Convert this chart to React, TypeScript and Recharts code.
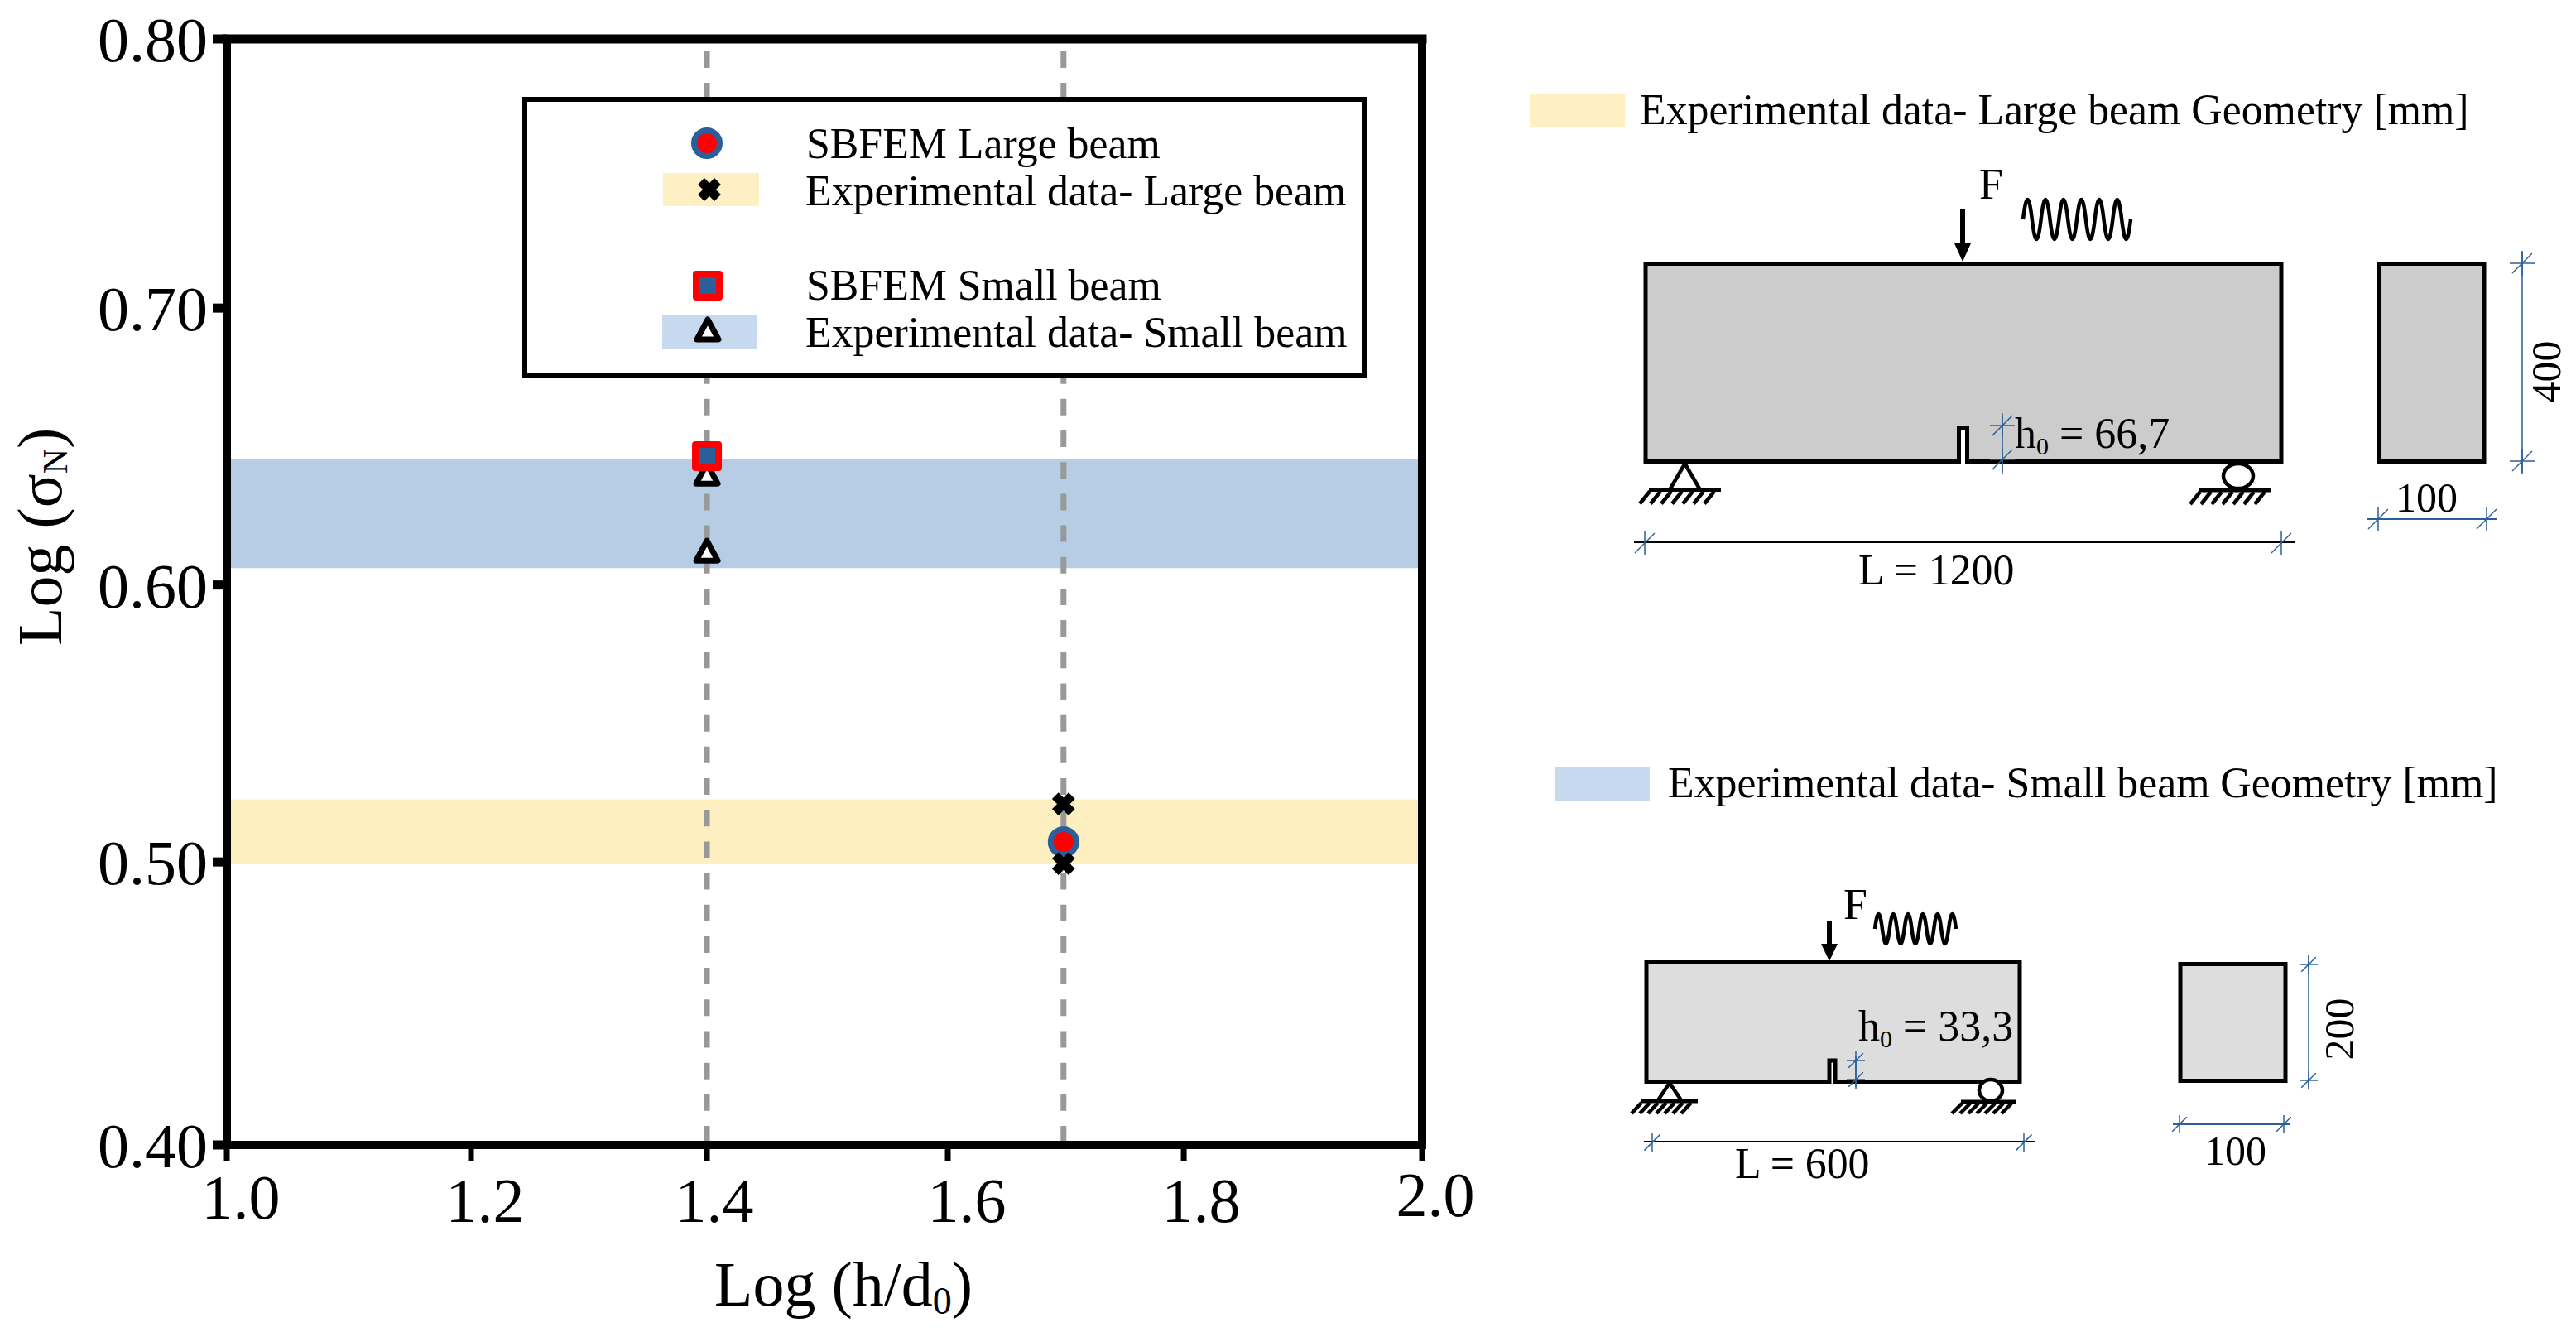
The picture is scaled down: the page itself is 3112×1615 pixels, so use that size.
import { Label, ReferenceArea, ReferenceLine, Scatter, ScatterChart, XAxis, YAxis } from 'recharts';

const SERIF = '"Liberation Serif", "Times New Roman", serif';
const BLUE = '#2B5F99';
const RED = '#FF0000';
const GRAY_DASH = '#999999';
const YELLOW_BAND = '#FEEFC0';
const BLUE_BAND = '#B7CDE5';
const YELLOW_SWATCH = '#FFF0C4';
const BLUE_SWATCH = '#C6D9EE';
const TEXT_SIZE = 51.8;

// axes (end ticks sit a little off the regular grid)
const xDomain = [1, 2];
const xTicks = [1, 1.2043, 1.4017, 1.6032, 1.8006, 2];
const yDomain = [0.3978, 0.7972];
const yTicks = [0.3978, 0.5, 0.6, 0.7, 0.7972];

const guideLines = [1.4017, 1.7];

const largeBand = [0.4994, 0.5224];
const smallBand = [0.6061, 0.6453];

const sbfemLargeX = [1.7];
const sbfemLargeY = [0.5072];
const expLargeX = [1.7, 1.7];
const expLargeY = [0.5209, 0.4994];
const sbfemSmallX = [1.4017];
const sbfemSmallY = [0.6465];
const expSmallX = [1.4017, 1.4017];
const expSmallY = [0.6402, 0.6124];

// the x labels were placed by hand in the original
const xLabelDx = [17, 17, 9, 23, 21, 16];
const xLabelY = [1472, 1476, 1476, 1476, 1476, 1469];

const toRows = (xs: number[], ys: number[]) => xs.map((x, i) => ({ x, y: ys[i] }));

function CircleMark({ cx, cy }: any) {
  return <circle cx={cx} cy={cy} r={15.5} fill={RED} stroke={BLUE} strokeWidth={7} />;
}

function SquareMark({ cx, cy }: any) {
  return <rect x={cx - 14} y={cy - 14} width={28} height={28} fill={BLUE} stroke={RED} strokeWidth={8} strokeLinejoin="round" />;
}

function CrossMark({ cx, cy }: any) {
  return (
    <path
      d={`M${cx - 10},${cy - 10}L${cx + 10},${cy + 10}M${cx + 10},${cy - 10}L${cx - 10},${cy + 10}`}
      stroke="#000"
      strokeWidth={11}
      fill="none"
    />
  );
}

function TriangleMark({ cx, cy }: any) {
  return (
    <path
      d={`M${cx},${cy - 12}L${cx + 13},${cy + 12}L${cx - 13},${cy + 12}Z`}
      fill="#fff"
      stroke="#000"
      strokeWidth={7}
      strokeLinejoin="round"
    />
  );
}

function XTick({ x, payload, index }: any) {
  return (
    <text x={x + xLabelDx[index]} y={xLabelY[index]} textAnchor="middle" fontFamily={SERIF} fontSize={76} fill="#000">
      {Number(payload.value).toFixed(1)}
    </text>
  );
}

function wavePath(x0: number, x1: number, mid: number, amp: number, periods: number) {
  const half = (x1 - x0) / (periods * 2);
  let d = `M${x0},${mid}`;
  for (let i = 0; i < periods * 2; i++) {
    const sign = i % 2 === 0 ? -1 : 1;
    const a = x0 + i * half;
    d += `C${a + half * 0.35},${mid + sign * amp * 1.33} ${a + half * 0.65},${mid + sign * amp * 1.33} ${a + half},${mid}`;
  }
  return d;
}

function Ground({ x0, x1, y, depth, step = 13 }: any) {
  return (
    <g stroke="#000" fill="none">
      <line x1={x0} x2={x1} y1={y} y2={y} strokeWidth={5} />
      {Array.from({ length: 7 }, (_, i) => (
        <line key={i} x1={x0 + step * i + 1} y1={y + 2} x2={x0 + step * i - 11} y2={y + depth} strokeWidth={4.5} />
      ))}
    </g>
  );
}

function Pin({ x, top, bottom, half }: any) {
  return <path d={`M${x - half},${bottom}L${x},${top}L${x + half},${bottom}`} fill="none" stroke="#000" strokeWidth={4.5} />;
}

function DimTick({ x, y, size, cross = true }: any) {
  return (
    <g stroke={BLUE} strokeWidth={1.5}>
      {cross && <line x1={x - size} x2={x + size} y1={y} y2={y} />}
      <line x1={x} x2={x} y1={y - size} y2={y + size} />
      <line x1={x - size * 0.8} y1={y + size * 0.8} x2={x + size * 0.8} y2={y - size * 0.8} />
    </g>
  );
}

function Txt({ x, y, size = TEXT_SIZE, children, ...rest }: any) {
  return (
    <text x={x} y={y} fontFamily={SERIF} fontSize={size} fill="#000" {...rest}>
      {children}
    </text>
  );
}

function Arrow({ x, top, tip, headTop }: any) {
  return (
    <g>
      <line x1={x} x2={x} y1={top} y2={headTop} stroke="#000" strokeWidth={6} />
      <path d={`M${x - 10},${headTop}L${x + 10},${headTop}L${x},${tip}Z`} fill="#000" />
    </g>
  );
}

function Legend() {
  return (
    <g>
      <rect x={634} y={120} width={1015} height={334} fill="#fff" stroke="#000" strokeWidth={6} />
      <rect x={801} y={209} width={116} height={40} fill={YELLOW_SWATCH} />
      <rect x={800} y={380} width={115} height={41} fill={BLUE_SWATCH} />
      <CircleMark cx={854} cy={173} />
      <CrossMark cx={857} cy={229} />
      <SquareMark cx={855} cy={345} />
      <TriangleMark cx={855} cy={398} />
      <Txt x={974} y={191}>SBFEM Large beam</Txt>
      <Txt x={973} y={248}>Experimental data- Large beam</Txt>
      <Txt x={974} y={362}>SBFEM Small beam</Txt>
      <Txt x={973} y={419}>Experimental data- Small beam</Txt>
    </g>
  );
}

function LargeBeam() {
  return (
    <g>
      <rect x={1848} y={114} width={115} height={40} fill={YELLOW_SWATCH} />
      <Txt x={1981} y={150}>Experimental data- Large beam Geometry [mm]</Txt>
      <Txt x={2391} y={240}>F</Txt>
      <Arrow x={2371} top={252} tip={316} headTop={294} />
      <path d={wavePath(2444, 2574, 265, 24, 6)} fill="none" stroke="#000" strokeWidth={4.5} />
      <path d="M1988,318.5H2756V557.5H2376.5V517.5H2366.5V557.5H1988Z" fill="#CCCCCC" stroke="#000" strokeWidth={5} />
      <Pin x={2035.5} top={560} bottom={591} half={18} />
      <Ground x0={1992} x1={2079} y={591.5} depth={17} />
      <ellipse cx={2704} cy={575} rx={18} ry={15} fill="#fff" stroke="#000" strokeWidth={4.5} />
      <Ground x0={2657} x1={2744} y={592} depth={17} />
      <line x1={2419} x2={2419} y1={502} y2={572} stroke={BLUE} strokeWidth={1.5} />
      <DimTick x={2419} y={514} size={15} />
      <DimTick x={2419} y={555} size={15} />
      <Txt x={2434} y={541} size={52}>
        h<tspan dy={8} fontSize={30}>0</tspan>
        <tspan dy={-8}> = 66,7</tspan>
      </Txt>
      <rect x={2874} y={318.5} width={127} height={239} fill="#CCCCCC" stroke="#000" strokeWidth={5} />
      <line x1={3047} x2={3047} y1={304} y2={571} stroke={BLUE} strokeWidth={1.5} />
      <DimTick x={3047} y={318} size={15} />
      <DimTick x={3047} y={557} size={15} />
      <Txt x={0} y={0} size={50} textAnchor="middle" transform="translate(3093,449) rotate(-90)">400</Txt>
      <line x1={2860} x2={3016} y1={627} y2={627} stroke={BLUE} strokeWidth={2} />
      <DimTick x={2873} y={627} size={15} cross={false} />
      <DimTick x={3004} y={627} size={15} cross={false} />
      <Txt x={2894} y={618} size={50}>100</Txt>
      <line x1={1974} x2={2773} y1={655} y2={655} stroke="#000" strokeWidth={2} />
      <DimTick x={1987} y={656} size={15} cross={false} />
      <DimTick x={2756} y={656} size={15} cross={false} />
      <Txt x={2245} y={706}>L = 1200</Txt>
    </g>
  );
}

function SmallBeam() {
  return (
    <g>
      <rect x={1878} y={927} width={115} height={41} fill={BLUE_SWATCH} />
      <Txt x={2015} y={963}>Experimental data- Small beam Geometry [mm]</Txt>
      <Txt x={2227} y={1110}>F</Txt>
      <Arrow x={2210} top={1113} tip={1161} headTop={1140} />
      <path d={wavePath(2265, 2363, 1122, 18, 5.5)} fill="none" stroke="#000" strokeWidth={4.5} />
      <path d="M1989,1162.5H2440V1306.5H2217V1281H2210V1306.5H1989Z" fill="#DDDDDD" stroke="#000" strokeWidth={5} />
      <Pin x={2017} top={1308} bottom={1329} half={14} />
      <Ground x0={1982} x1={2051} y={1330} depth={15} step={10} />
      <ellipse cx={2405} cy={1317} rx={14} ry={13} fill="#fff" stroke="#000" strokeWidth={4.5} />
      <Ground x0={2369} x1={2435} y={1331} depth={14} step={10} />
      <line x1={2242} x2={2242} y1={1275} y2={1313} stroke={BLUE} strokeWidth={1.5} />
      <DimTick x={2242} y={1281} size={11} />
      <DimTick x={2242} y={1304} size={11} />
      <Txt x={2245} y={1257} size={52}>
        h<tspan dy={8} fontSize={30}>0</tspan>
        <tspan dy={-8}> = 33,3</tspan>
      </Txt>
      <rect x={2634} y={1164.5} width={127} height={141} fill="#DDDDDD" stroke="#000" strokeWidth={5} />
      <line x1={2789} x2={2789} y1={1153} y2={1316} stroke={BLUE} strokeWidth={1.5} />
      <DimTick x={2789} y={1165} size={11} />
      <DimTick x={2789} y={1305} size={11} />
      <Txt x={0} y={0} size={50} textAnchor="middle" transform="translate(2843,1243) rotate(-90)">200</Txt>
      <line x1={2625} x2={2767} y1={1358} y2={1358} stroke={BLUE} strokeWidth={2} />
      <DimTick x={2633} y={1358} size={11} cross={false} />
      <DimTick x={2759} y={1358} size={11} cross={false} />
      <Txt x={2663} y={1407} size={50}>100</Txt>
      <line x1={1986} x2={2458} y1={1379} y2={1379} stroke="#000" strokeWidth={2} />
      <DimTick x={1996} y={1380} size={12} cross={false} />
      <DimTick x={2445} y={1380} size={12} cross={false} />
      <Txt x={2096} y={1423}>L = 600</Txt>
    </g>
  );
}

export default function App() {
  return (
    <div style={{ position: 'absolute', left: 0, top: 0, width: 3112, height: 1615, background: '#fff' }}>
      <ScatterChart width={3112} height={1615} margin={{ top: 47, right: 1394, bottom: 82, left: 34 }}>
        <XAxis
          type="number"
          dataKey="x"
          domain={xDomain}
          ticks={xTicks}
          interval={0}
          height={150}
          axisLine={{ stroke: '#000', strokeWidth: 10 }}
          tickLine={{ stroke: '#000', strokeWidth: 7 }}
          tickSize={19}
          tick={<XTick />}
        >
          <Label
            content={() => (
              <text x={863} y={1577} fontFamily={SERIF} fontSize={76} fill="#000">
                Log (h/d<tspan dy={10} fontSize={46}>0</tspan>
                <tspan dy={-10}>)</tspan>
              </text>
            )}
          />
        </XAxis>
        <YAxis
          type="number"
          dataKey="y"
          domain={yDomain}
          ticks={yTicks}
          interval={0}
          width={240}
          axisLine={{ stroke: '#000', strokeWidth: 10 }}
          tickLine={{ stroke: '#000', strokeWidth: 11 }}
          tickSize={17}
          tickMargin={6}
          tick={{ fontFamily: SERIF, fontSize: 76, fill: '#000' }}
          tickFormatter={(v: number) => v.toFixed(2)}
        >
          <Label
            content={() => (
              <text transform="translate(74,780) rotate(-90)" fontFamily={SERIF} fontSize={76} fill="#000">
                Log (σ<tspan dy={7} fontSize={42}>N</tspan>
                <tspan dy={-7}>)</tspan>
              </text>
            )}
          />
        </YAxis>
        <ReferenceArea x1={xDomain[0]} x2={xDomain[1]} y1={largeBand[0]} y2={largeBand[1]} fill={YELLOW_BAND} fillOpacity={1} stroke="#FDE9A8" strokeWidth={1} />
        <ReferenceArea x1={xDomain[0]} x2={xDomain[1]} y1={smallBand[0]} y2={smallBand[1]} fill={BLUE_BAND} fillOpacity={1} stroke="none" />
        {guideLines.map((x) => (
          <ReferenceLine key={x} x={x} stroke={GRAY_DASH} strokeWidth={7} strokeDasharray="20 18.18" strokeDashoffset={35.18} />
        ))}
        <ReferenceLine y={yDomain[1]} stroke="#000" strokeWidth={11} strokeLinecap="square" />
        <ReferenceLine x={xDomain[1]} stroke="#000" strokeWidth={10} strokeLinecap="square" />
        <Scatter name="SBFEM Large beam" data={toRows(sbfemLargeX, sbfemLargeY)} shape={<CircleMark />} isAnimationActive={false} />
        <Scatter name="Experimental data- Large beam" data={toRows(expLargeX, expLargeY)} shape={<CrossMark />} isAnimationActive={false} />
        <Scatter name="Experimental data- Small beam" data={toRows(expSmallX, expSmallY)} shape={<TriangleMark />} isAnimationActive={false} />
        <Scatter name="SBFEM Small beam" data={toRows(sbfemSmallX, sbfemSmallY)} shape={<SquareMark />} isAnimationActive={false} />
      </ScatterChart>
      <svg width={3112} height={1615} style={{ position: 'absolute', left: 0, top: 0, pointerEvents: 'none' }}>
        <Legend />
        <LargeBeam />
        <SmallBeam />
      </svg>
    </div>
  );
}
